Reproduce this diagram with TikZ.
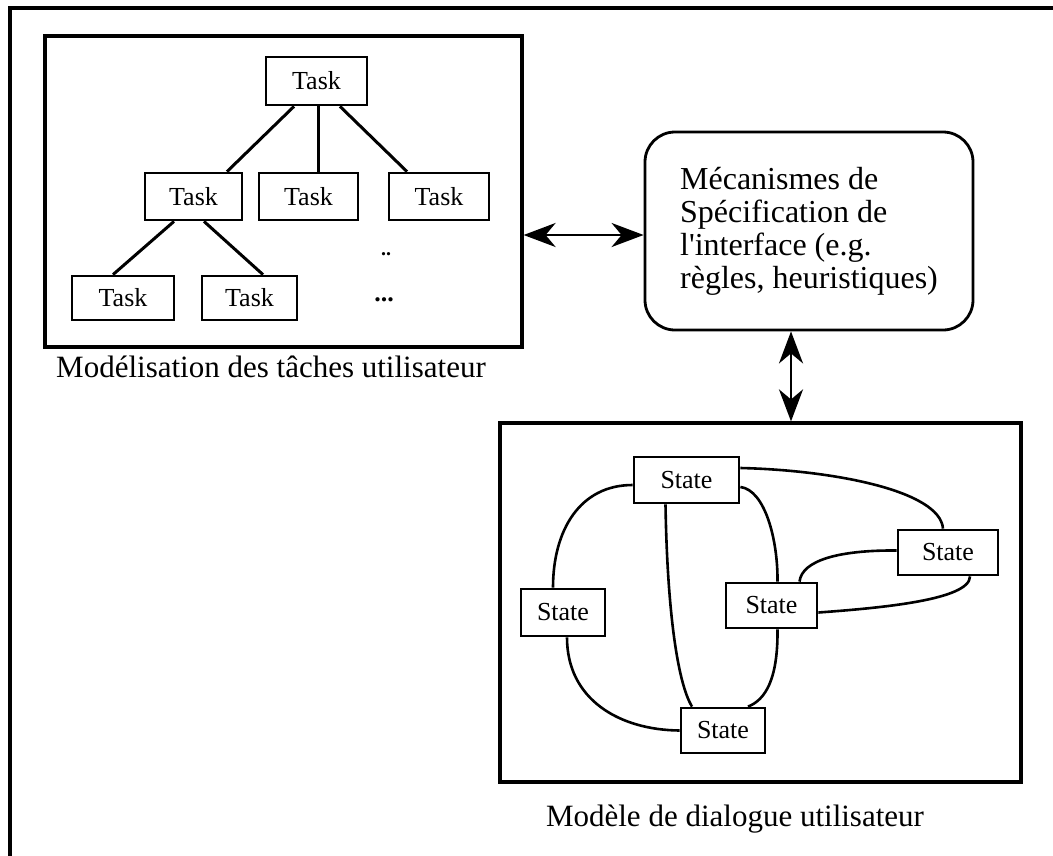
\documentclass[tikz,border=0pt]{standalone}
\usepackage{fontspec}
\setmainfont{Liberation Serif}[Ligatures=TeXOff]
\usetikzlibrary{arrows.meta}
\begin{document}
\begin{tikzpicture}[x=1pt,y=-1pt,
  frame/.style={draw,line width=3.6pt},
  panel/.style={draw,line width=3.2pt,rectangle,inner sep=0pt},
  taskbox/.style={draw,line width=2.8pt,rectangle,inner sep=0pt,minimum height=47pt,
    font=\fontsize{26}{30}\selectfont},
  statebox/.style={draw,line width=2.8pt,rectangle,inner sep=0pt,minimum height=46pt,
    font=\fontsize{26}{30}\selectfont},
  treeedge/.style={line width=3pt},
  stateedge/.style={line width=2.6pt},
  mechbox/.style={draw,line width=2.8pt,rounded corners=30pt,align=left,inner sep=0pt,
    minimum width=328pt,minimum height=198pt,font=\fontsize{32}{33}\selectfont},
  caption/.style={anchor=base,inner sep=0pt,font=\fontsize{31}{36}\selectfont},
  link/.style={line width=2.8pt,{Stealth[length=32pt,width=24pt,inset=10pt]}-{Stealth[length=32pt,width=24pt,inset=10pt]}}]

\useasboundingbox (0,0) rectangle (1053,855);
\clip (0,0) rectangle (1053,855);

% outer frame
\draw[frame] (10,870) -- (10,8) -- (1070,8);

% task model panel
\node[panel,minimum width=477pt,minimum height=311pt] (tp) at (283.5,191.5) {};
\node[taskbox,minimum width=101pt,minimum height=48pt] (t0) at (316.5,81) {Task};
\node[taskbox,minimum width=97pt] (t21) at (193.5,196.5) {Task};
\node[taskbox,minimum width=99pt] (t22) at (308.5,196.5) {Task};
\node[taskbox,minimum width=100pt] (t23) at (439,196.5) {Task};
\node[taskbox,minimum width=102pt,minimum height=44pt] (t31) at (123,298) {Task};
\node[taskbox,minimum width=95pt,minimum height=44pt] (t32) at (249.5,298) {Task};
\node[inner sep=0pt,font=\fontsize{20}{22}\selectfont\bfseries] (dd) at (386,254) {..};
\node[inner sep=0pt,font=\fontsize{26}{30}\selectfont\bfseries] (ddd) at (384,300) {...};

\draw[treeedge] ([xshift=-22.5pt]t0.south) -- ([xshift=33.5pt]t21.north);
\draw[treeedge] ([xshift=1.5pt]t0.south) -- ([xshift=1.5pt]t0.south |- t22.north);
\draw[treeedge] ([xshift=23.5pt]t0.south) -- ([xshift=-32pt]t23.north);
\draw[treeedge] ([xshift=-19.5pt]t21.south) -- ([xshift=-10pt]t31.north);
\draw[treeedge] ([xshift=10.5pt]t21.south) -- ([xshift=13.5pt]t32.north);

\node[caption] (tcap) at (271,377) {Modélisation des tâches utilisateur};

% specification mechanisms
\node[mechbox] (mech) at (809,231) {Mécanismes de\\Spécification de\\l'interface (e.g.\\règles, heuristiques)};

% dialogue model panel
\node[panel,minimum width=521pt,minimum height=359pt] (sp) at (760.5,602.5) {};
\node[statebox,minimum width=105pt] (s1) at (686.5,480) {State};
\node[statebox,minimum width=100pt,minimum height=45pt] (s2) at (948,552.5) {State};
\node[statebox,minimum width=84pt,minimum height=47pt] (s3) at (563,612.5) {State};
\node[statebox,minimum width=91pt,minimum height=45pt] (s4) at (771.5,605.5) {State};
\node[statebox,minimum width=84pt,minimum height=45pt] (s5) at (723,730.5) {State};

\draw[stateedge] ([yshift=12pt]s1.east) .. controls (830,470) and (940,490) .. ([xshift=-5pt]s2.north);
\draw[stateedge] ([yshift=-5pt]s1.west) .. controls (580,485) and (553,530) .. ([xshift=-10pt]s3.north);
\draw[stateedge] ([xshift=-21pt]s1.south) .. controls (667,600) and (676,680) .. ([xshift=-31pt]s5.north);
\draw[stateedge] ([yshift=-7pt]s1.east) .. controls (765,490) and (778,540) .. ([xshift=6pt]s4.north);
\draw[stateedge] ([yshift=2pt]s2.west) .. controls (840,550) and (802,560) .. ([xshift=28pt]s4.north);
\draw[stateedge] ([xshift=22pt]s2.south) .. controls (970,600) and (880,608) .. ([yshift=-7pt]s4.east);
\draw[stateedge] ([xshift=4pt]s3.south) .. controls (567,700) and (620,730) .. (s5.west);
\draw[stateedge] ([xshift=6pt]s4.south) .. controls (778,680) and (765,700) .. ([xshift=25pt]s5.north);

\node[caption] (scap) at (735,826) {Modèle de dialogue utilisateur};

% links between the parts
\draw[link] ([yshift=-4pt]mech.west -| tp.east) -- ([yshift=-4pt]mech.west);
\draw[link] ([xshift=-18pt]mech.south) -- ([xshift=-18pt]mech.south |- sp.north);

\end{tikzpicture}
\end{document}
